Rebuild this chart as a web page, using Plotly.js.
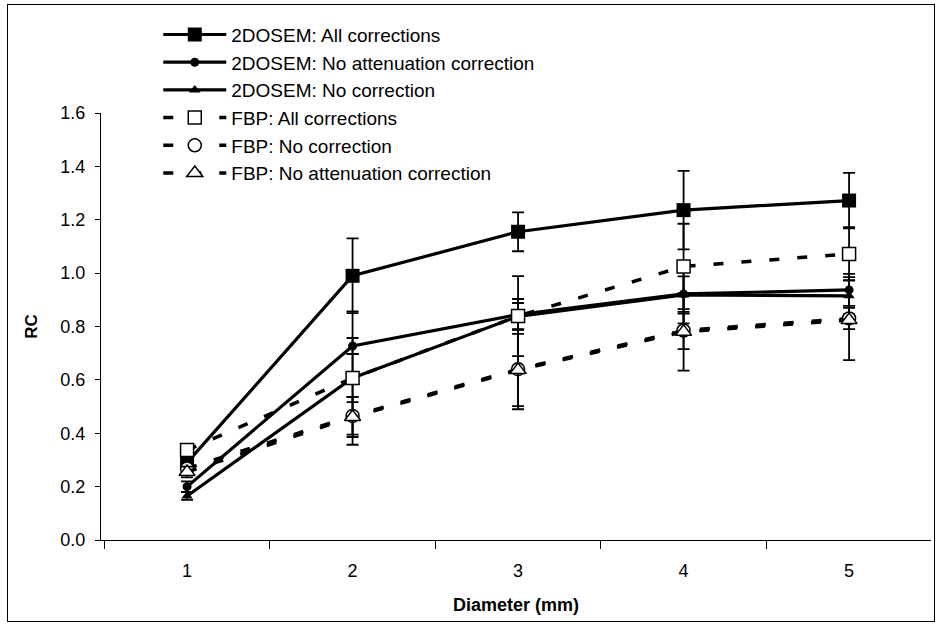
<!DOCTYPE html>
<html>
<head>
<meta charset="utf-8">
<script src="https://cdn.plot.ly/plotly-3.0.1.min.js"></script>
<style>
  html, body { margin: 0; padding: 0; background: #fff; }
  #chart { width: 939px; height: 626px; position: absolute; left: 0; top: 0; }
  #frame { position: absolute; left: 7px; top: 4px; width: 926px; height: 616px; border: 1px solid #000; pointer-events: none; }
</style>
</head>
<body>
<div id="chart"></div>
<div id="frame"></div>
<script>
// ---- data ----
const diameters = ["1", "2", "3", "4", "5"];

const osemAllCorr      = [0.29, 0.99, 1.155, 1.236, 1.272];
const osemAllCorrErr   = [0.02, 0.14, 0.073, 0.147, 0.104];

const osemNoAtten      = [0.20, 0.727, 0.845, 0.922, 0.937];
const osemNoAttenErr   = [0.02, 0.03, 0.058, 0.11, 0.06];

const osemNoCorr       = [0.165, 0.607, 0.838, 0.918, 0.915];
const osemNoCorrErr    = [0.015, 0.09, 0.05, 0.07, 0.07];

const fbpAllCorr       = [0.337, 0.607, 0.839, 1.025, 1.072];
const fbpAllCorrErr    = [0.02, 0.25, 0.15, 0.16, 0.10];

const fbpNoCorr        = [0.268, 0.465, 0.64, 0.785, 0.83];
const fbpNoCorrErr     = [0.02, 0.07, 0.15, 0.07, 0.04];

const fbpNoAtten       = [0.255, 0.461, 0.637, 0.78, 0.824];
const fbpNoAttenErr    = [0.02, 0.075, 0.135, 0.145, 0.15];

const names = [
  "2DOSEM: All corrections",
  "2DOSEM: No attenuation correction",
  "2DOSEM: No correction",
  "FBP: All corrections",
  "FBP: No correction",
  "FBP: No attenuation correction"
];

// ---- styling ----
function errBar(arr) {
  return { type: "data", array: arr, visible: true, color: "#000", thickness: 1.8, width: 6 };
}
const solid = { color: "#000", width: 3.2 };
const dashed = { color: "#000", width: 3.5, dash: "10px,18px" };

const traces = [
  { y: osemAllCorr, err: osemAllCorrErr, line: solid,
    marker: { symbol: "square", size: 14, color: "#000" } },
  { y: osemNoAtten, err: osemNoAttenErr, line: solid,
    marker: { symbol: "circle", size: 9, color: "#000" } },
  { y: osemNoCorr, err: osemNoCorrErr, line: solid,
    marker: { symbol: "triangle-up", size: 10, color: "#000" } },
  { y: fbpAllCorr, err: fbpAllCorrErr, line: dashed,
    marker: { symbol: "square", size: 13, color: "#fff", line: { color: "#000", width: 1.5 } } },
  { y: fbpNoCorr, err: fbpNoCorrErr, line: dashed,
    marker: { symbol: "circle", size: 13, color: "#fff", line: { color: "#000", width: 1.5 } } },
  { y: fbpNoAtten, err: fbpNoAttenErr, line: dashed,
    marker: { symbol: "triangle-up", size: 14, color: "#fff", line: { color: "#000", width: 1.5 } } }
].map((t, i) => ({
  type: "scatter",
  mode: "lines+markers",
  name: names[i],
  x: diameters,
  y: t.y,
  error_y: errBar(t.err),
  line: t.line,
  marker: t.marker
}));

const font = "Arial, 'Liberation Sans', sans-serif";

const layout = {
  width: 939,
  height: 626,
  margin: { l: 101, r: 8, t: 113, b: 86 },
  paper_bgcolor: "#fff",
  plot_bgcolor: "#fff",
  font: { family: font, size: 18, color: "#000" },
  showlegend: true,
  legend: {
    x: 0.069, y: 1.228, xanchor: "left", yanchor: "top",
    bgcolor: "rgba(0,0,0,0)",
    font: { family: font, size: 19, color: "#000" },
    itemwidth: 63,
    tracegroupgap: 0
  },
  xaxis: {
    type: "category",
    range: [-0.52, 4.495],
    tickson: "boundaries",
    ticks: "outside",
    ticklen: 8,
    tickcolor: "#000",
    showline: true,
    linecolor: "#000",
    linewidth: 1,
    showgrid: false,
    zeroline: false,
    ticklabelstandoff: 14,
    tickfont: { family: font, size: 18 },
    title: { text: "<b>Diameter (mm)</b>", font: { family: font, size: 18 }, standoff: 18 }
  },
  yaxis: {
    range: [0, 1.6],
    tickvals: [0, 0.2, 0.4, 0.6, 0.8, 1.0, 1.2, 1.4, 1.6],
    tickformat: ".1f",
    ticks: "outside",
    ticklen: 5,
    tickcolor: "#000",
    showline: true,
    linecolor: "#000",
    linewidth: 1,
    showgrid: false,
    zeroline: false,
    ticklabelstandoff: 6,
    tickfont: { family: font, size: 18 },
    title: { text: "<b>RC</b>", font: { family: font, size: 17 }, standoff: 18 }
  }
};

Plotly.newPlot("chart", traces, layout, { displayModeBar: false, staticPlot: true });
</script>
</body>
</html>
